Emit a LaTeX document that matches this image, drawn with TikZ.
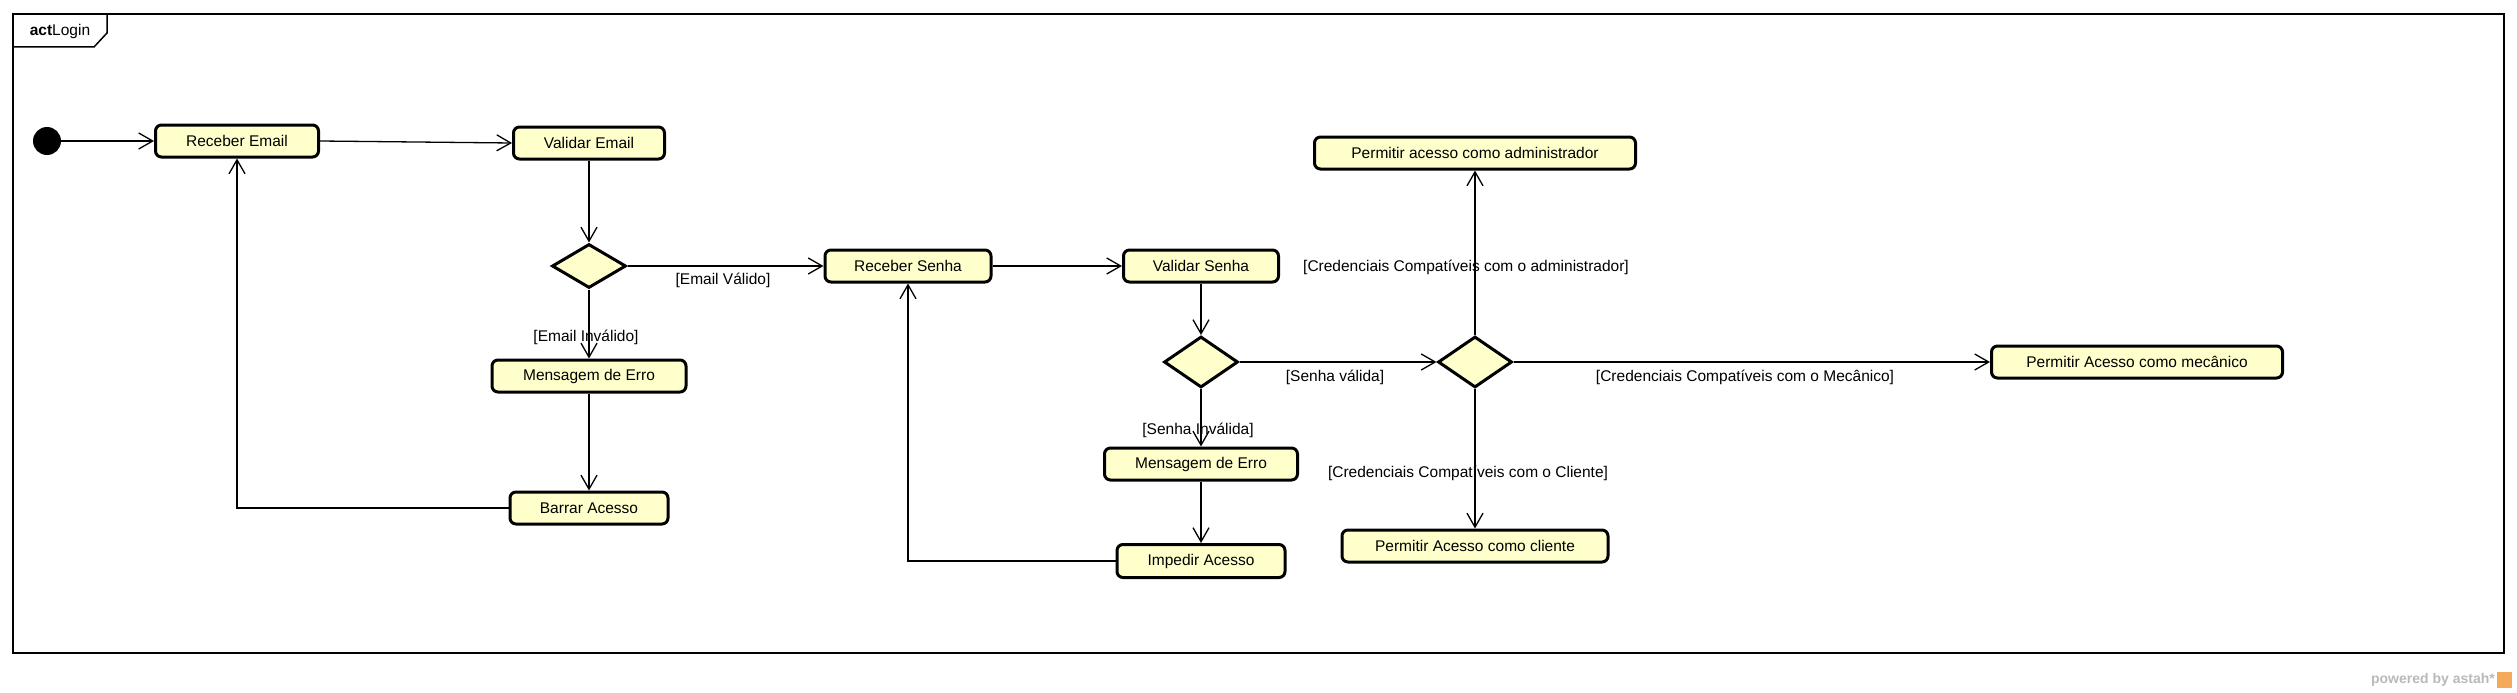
\documentclass[tikz,border=0pt]{standalone}
\usepackage{fontspec}
\setmainfont{Liberation Sans}
\usetikzlibrary{arrows.meta,shapes.geometric}
\definecolor{actfill}{RGB}{255,255,204}
\definecolor{wmgray}{RGB}{185,185,185}
\definecolor{wmorange}{RGB}{245,170,90}
\tikzset{
  txt/.style={font=\fontsize{15.5}{18}\selectfont},
  action/.style={txt, draw, line width=3pt, rounded corners=6pt, fill=actfill, minimum height=32pt, inner sep=0pt},
  decision/.style={draw, diamond, line width=3pt, fill=actfill, inner sep=0pt, minimum width=74pt},
  guard/.style={txt, inner sep=0pt},
  flow/.style={line width=1.3pt, -{Straight Barb[length=14pt,width=16pt,line width=1.3pt]}},
  framestyle/.style={line width=1.5pt}
}
\begin{document}
\begin{tikzpicture}[x=1pt,y=-1pt]
\useasboundingbox (0,0) rectangle (2517,693);
% frame
\draw[framestyle] (13,14) rectangle (2504,653);
\draw[framestyle] (13,47) -- (94,47) -- (107,33) -- (107,14);
\node[txt, inner sep=0pt] (title) at (60,31) {\textbf{act}Login};
% nodes
\node[circle, fill=black, minimum size=28pt, inner sep=0pt] (init) at (47,141) {};
\node[action, minimum width=163pt] (re) at (237,141) {Receber Email};
\node[action, minimum width=151pt] (ve) at (589,143) {Validar Email};
\node[decision, minimum height=44pt] (d1) at (589,266) {};
\node[action, minimum width=194pt] (me1) at (589,376) {Mensagem de Erro};
\node[action, minimum width=158pt] (ba) at (589,508) {Barrar Acesso};
\node[action, minimum width=166pt] (rs) at (908,266) {Receber Senha};
\node[action, minimum width=155pt] (vs) at (1201,266) {Validar Senha};
\node[decision, minimum height=51pt] (d2) at (1201,362) {};
\node[action, minimum width=193pt] (me2) at (1201,464) {Mensagem de Erro};
\node[action, minimum width=168pt, minimum height=33pt] (ia) at (1201,561) {Impedir Acesso};
\node[decision, minimum height=51pt] (d3) at (1475,362) {};
\node[action, minimum width=321pt] (adm) at (1475,153) {Permitir acesso como administrador};
\node[action, minimum width=291pt] (mec) at (2137,362) {Permitir Acesso como mecânico};
\node[action, minimum width=266pt] (cli) at (1475,546) {Permitir Acesso como cliente};
% guards
\node[guard] (gev) at (723,280) {[Email Válido]};
\node[guard] (gei) at (586,337) {[Email Inválido]};
\node[guard] (gsv) at (1335,377) {[Senha válida]};
\node[guard] (gsi) at (1198,430) {[Senha Inválida]};
\node[guard] (gadm) at (1466,267) {[Credenciais Compatíveis com o administrador]};
\node[guard] (gmec) at (1745,377) {[Credenciais Compatíveis com o Mecânico]};
\node[guard] (gcli) at (1468,473) {[Credenciais Compatíveis com o Cliente]};
% connectors
\draw[flow] (init) -- (re);
\draw[flow] (re.east) -- (ve.west);
\draw[flow] (ve) -- (d1);
\draw[flow] (d1) -- (rs);
\draw[flow] (d1) -- (me1);
\draw[flow] (me1) -- (ba);
\draw[flow] (ba.west) -| (re);
\draw[flow] (rs) -- (vs);
\draw[flow] (vs) -- (d2);
\draw[flow] (d2) -- (d3);
\draw[flow] (d2) -- (me2);
\draw[flow] (me2) -- (ia);
\draw[flow] (ia.west) -| (rs);
\draw[flow] (d3) -- (adm);
\draw[flow] (d3) -- (mec);
\draw[flow] (d3) -- (cli);
% watermark
\node[anchor=east, inner sep=0pt, text=wmgray, font=\fontsize{14}{16}\selectfont\bfseries] (wm) at (2495,680) {powered by astah*};
\fill[wmorange] (2497,672) rectangle (2512,688);
\end{tikzpicture}
\end{document}
